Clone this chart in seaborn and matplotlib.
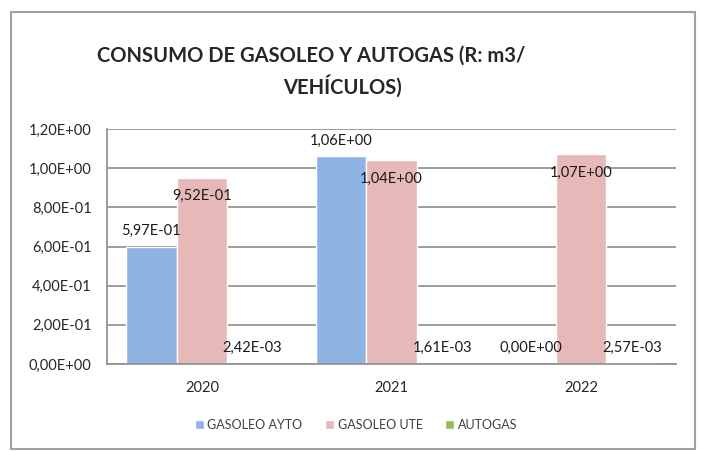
import pandas as pd
import numpy as np
import seaborn as sns
import matplotlib.pyplot as plt
from matplotlib.patches import Rectangle
from matplotlib.ticker import FuncFormatter

years = ['2020', '2021', '2022']
series = ['GASOLEO AYTO', 'GASOLEO UTE', 'AUTOGAS']
gasoleo_ayto = [0.597, 1.06, 0.0]
gasoleo_ute = [0.952, 1.04, 1.07]
autogas = [0.00242, 0.00161, 0.00257]
colors = ['#8EB4E3', '#E6B9B8', '#9BBB59']


def sci_es(v, pos=None):
    # excel style scientific with decimal comma
    return f'{v:.2E}'.replace('.', ',')


df = pd.DataFrame({
    'year': years * 3,
    'serie': np.repeat(series, 3),
    'value': gasoleo_ayto + gasoleo_ute + autogas,
})

sns.set_style('white')
plt.rcParams['font.family'] = ['Lato', 'DejaVu Sans']

fig = plt.figure(figsize=(7.01, 4.51), dpi=100)
ax = fig.add_axes([107 / 701, 1 - 364 / 451, 569 / 701, 235 / 451])

sns.barplot(data=df, x='year', y='value', hue='serie', hue_order=series,
            palette=colors, width=0.8, saturation=1, ax=ax, legend=True)

ax.set_ylim(0, 1.2)
ax.set_yticks(np.arange(0, 1.21, 0.2))
ax.yaxis.set_major_formatter(FuncFormatter(sci_es))
ax.set_xlabel('')
ax.set_ylabel('')
ax.grid(axis='y', color='#8C8C8C', linewidth=1.2)
ax.set_axisbelow(True)
ax.tick_params(length=0, labelsize=10.5, colors='#262626')
ax.tick_params(axis='x', pad=12)
ax.tick_params(axis='y', pad=11)
for s in ['top', 'right']:
    ax.spines[s].set_visible(False)
for s in ['left', 'bottom']:
    ax.spines[s].set_color('#8C8C8C')
    ax.spines[s].set_linewidth(1.2)

# data labels: UTE inside the top, the rest above
for i, cont in enumerate(ax.containers):
    for bar in cont:
        h = bar.get_height()
        dy = -13.5 if series[i] == 'GASOLEO UTE' else 11.5
        ax.annotate(sci_es(h), (bar.get_x() + bar.get_width() / 2, h),
                    xytext=(0, dy), textcoords='offset points',
                    ha='center', va='center', fontsize=10.5, color='#1a1a1a')

handles, labels = ax.get_legend_handles_labels()
ax.get_legend().remove()
fig.legend(handles, labels, loc='center', ncol=3, frameon=False,
           bbox_to_anchor=(356 / 701, 1 - 425 / 451), fontsize=9,
           labelcolor='#404040', handlelength=0.7, handleheight=0.7,
           handletextpad=0.3, columnspacing=1.8)

fig.text(311 / 701, 1 - 56 / 451, 'CONSUMO DE GASOLEO Y AUTOGAS (R: m3/',
         ha='center', va='center', fontsize=14.5, fontweight='bold')
fig.text(342 / 701, 1 - 86 / 451, 'VEHÍCULOS)',
         ha='center', va='center', fontsize=14.5, fontweight='bold')

fig.patches.append(Rectangle((11 / 701, 1 - 449 / 451), 684 / 701, 437 / 451,
                             transform=fig.transFigure, fill=False,
                             edgecolor='#A0A0A0', linewidth=1.5))

fig.savefig('out.png', dpi=100)
